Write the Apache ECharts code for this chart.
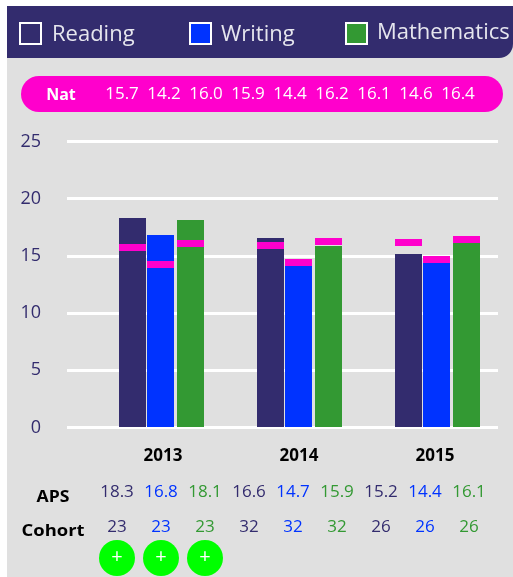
<!DOCTYPE html>
<html><head><meta charset="utf-8">
<style>html,body{margin:0;padding:0;background:#fff}#c{width:513px;height:577px}</style>
<script src="https://cdn.jsdelivr.net/npm/echarts@6/dist/echarts.min.js"></script>
</head><body><div id="c"></div>
<script>
const years = ['2013','2014','2015'];
const subjects = ['Reading','Writing','Mathematics'];
const yTicks = [0,5,10,15,20,25];
const reading = [18.3,16.6,15.2];
const writing = [16.8,14.7,14.4];
const mathematics = [18.1,15.9,16.1];
const natReading = [15.7,15.9,16.1];
const natWriting = [14.2,14.4,14.6];
const natMathematics = [16.0,16.2,16.4];
const natLabels = ['15.7','14.2','16.0','15.9','14.4','16.2','16.1','14.6','16.4'];
const apsLabels = ['18.3','16.8','18.1','16.6','14.7','15.9','15.2','14.4','16.1'];
const cohortLabels = ['23','23','23','32','32','32','26','26','26'];
const plusCount = 3;

const NAVY='#332c6e', BLUE='#0033ff', GREEN='#339933', PINK='#ff00cc', LIME='#00ff00', BG='#e0e0e0';
const FONT='"Open Sans"';
const colors=[NAVY,BLUE,GREEN];
const barOffset=[-42.5,-14.5,15.5], barW=27, markH=7;
const chart=echarts.init(document.getElementById('c'),null,{renderer:'canvas'});

function subjectSeries(idx,vals,nats){
  return {type:'custom',xAxisIndex:1,yAxisIndex:1,coordinateSystem:'cartesian2d',silent:true,z:5,
    encode:{x:0,y:1},
    data:vals.map((v,i)=>[i,v,nats[i]]),
    renderItem(p,api){
      const top=api.coord([api.value(0),api.value(1)]);
      const base=api.coord([api.value(0),0]);
      const nat=api.coord([api.value(0),api.value(2)]);
      const x=Math.floor(top[0]+barOffset[idx]);
      const yTop=Math.round(top[1]), yBase=Math.floor(base[1]);
      return {type:'group',children:[
        {type:'rect',shape:{x,y:yTop,width:barW,height:yBase-yTop},style:{fill:colors[idx]}},
        {type:'rect',shape:{x,y:Math.floor(nat[1]-markH/2),width:barW,height:markH},style:{fill:PINK}}
      ]};
    }};
}
const g=[];
const txt=(text,x,y,o,el)=>g.push(Object.assign({type:'text',x,y,z:10,silent:true,style:Object.assign({text,fontFamily:FONT,align:'center',verticalAlign:'middle'},o)},el||{}));
g.push({type:'rect',z:-10,silent:true,shape:{x:7,y:6,width:506,height:571},style:{fill:BG}});
g.push({type:'rect',z:1,silent:true,shape:{x:7,y:6,width:506,height:52,r:[0,0,14,0]},style:{fill:NAVY}});
const legendBox=[19,189,345], legendText=[52,221,377], legendY=[35,35,33];
subjects.forEach((s,i)=>{
  g.push({type:'rect',z:10,silent:true,shape:{x:legendBox[i]+1,y:23,width:21,height:21},style:{fill:colors[i],stroke:'#fff',lineWidth:2}});
  txt(s,legendText[i],legendY[i],{align:'left',fontSize:22,fill:'#e6e6ee'});
});
g.push({type:'rect',z:1,silent:true,shape:{x:21,y:76,width:482,height:36,r:18},style:{fill:PINK}});
txt('Nat',61,95,{fontSize:16,fontWeight:'bold',fill:'#fff'});
natLabels.forEach((t,i)=>txt(t,122+42*i,94.5,{fontSize:17,fill:'#fff'}));
const yearX=[163,299,435];
years.forEach((y,i)=>txt(y,yearX[i],456,{fontSize:17,fontWeight:'bold',fill:'#000'}));
txt('APS',53,497,{fontSize:16,fontWeight:'bold',fill:'#000'},{scaleX:1.1});
txt('Cohort',53,531,{fontSize:16,fontWeight:'bold',fill:'#000'},{scaleX:1.15});
apsLabels.forEach((t,i)=>txt(t,117+44*i,492.5,{fontSize:17,fill:colors[i%3]}));
cohortLabels.forEach((t,i)=>txt(t,117+44*i,527,{fontSize:17,fill:colors[i%3]}));
for(let i=0;i<plusCount;i++){
  g.push({type:'circle',z:5,silent:true,shape:{cx:117+44*i,cy:558,r:18},style:{fill:LIME}});
  txt('+',117+44*i,557.5,{fontSize:20,fill:'#fff'});
}

chart.setOption({
  animation:false,
  backgroundColor:'#fff',
  graphic:{elements:g},
  grid:[
    {left:67,width:431,top:141.5,height:286},
    {left:92.5,width:414,top:141.5,height:286}
  ],
  xAxis:[
    {gridIndex:0,type:'category',data:years,show:false},
    {gridIndex:1,type:'category',data:years,show:false}
  ],
  yAxis:[
    {gridIndex:0,type:'value',min:yTicks[0],max:yTicks[yTicks.length-1],interval:5,
     axisLine:{show:false},axisTick:{show:false},
     axisLabel:{fontFamily:FONT,fontSize:18,color:NAVY,margin:26,padding:[4,0,0,0]},
     splitLine:{show:true,lineStyle:{color:'#fff',width:3}}},
    {gridIndex:1,type:'value',min:yTicks[0],max:yTicks[yTicks.length-1],interval:5,show:false,splitLine:{show:false}}
  ],
  series:[
    subjectSeries(0,reading,natReading),
    subjectSeries(1,writing,natWriting),
    subjectSeries(2,mathematics,natMathematics)
  ]
});
</script></body></html>
